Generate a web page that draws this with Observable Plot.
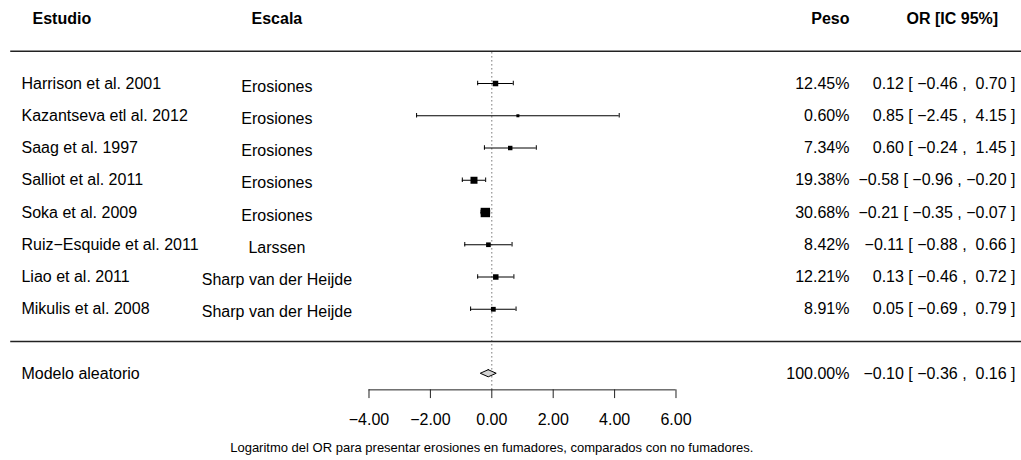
<!DOCTYPE html>
<html><head><meta charset="utf-8">
<script src="https://cdn.jsdelivr.net/npm/d3@7"></script>
<script src="https://cdn.jsdelivr.net/npm/@observablehq/plot@0.6"></script>
<style>body{margin:0;background:#fff;} svg text{white-space:pre;}</style>
</head><body><div id="chart"></div>
<script>
// ---- data ----
const studies = ["Harrison et al. 2001", "Kazantseva etl al. 2012", "Saag et al. 1997", "Salliot et al. 2011", "Soka et al. 2009", "Ruiz\u2212Esquide et al. 2011", "Liao et al. 2011", "Mikulis et al. 2008"];
const escalas = ["Erosiones", "Erosiones", "Erosiones", "Erosiones", "Erosiones", "Larssen", "Sharp van der Heijde", "Sharp van der Heijde"];
const estimates = [0.12, 0.85, 0.60, -0.58, -0.21, -0.11, 0.13, 0.05];
const lowers = [-0.46, -2.45, -0.24, -0.96, -0.35, -0.88, -0.46, -0.69];
const uppers = [0.70, 4.15, 1.45, -0.20, -0.07, 0.66, 0.72, 0.79];
const weights = [12.45, 0.60, 7.34, 19.38, 30.68, 8.42, 12.21, 8.91];
const modelLabel = "Modelo aleatorio";
const modelEst = -0.10, modelLower = -0.36, modelUpper = 0.16, modelWeight = 100.00;
const headers = {study: "Estudio", scale: "Escala", weight: "Peso", ci: "OR [IC 95%]"};
const tickValues = [-4, -2, 0, 2, 4, 6];
const caption = "Logaritmo del OR para presentar erosiones en fumadores, comparados con no fumadores.";

// ---- helpers ----
const k = studies.length;
const num = v => (v < 0 ? "\u2212" : "") + Math.abs(v).toFixed(2);
const pad = v => (v < 0 ? "" : " ") + num(v);
const ciText = (e, l, u) => `${num(e)} [ ${pad(l)} , ${pad(u)} ]`;
const rows = studies.map((s, i) => ({
  study: s, escala: escalas[i], est: estimates[i], lb: lowers[i], ub: uppers[i], w: weights[i], row: k - i
}));
const modelRow = -1;
const h = 0.11, cap = 0.07;
const diamond = [
  {y: modelRow + h, x1: modelEst, x2: modelEst},
  {y: modelRow, x1: modelLower, x2: modelUpper},
  {y: modelRow - h, x1: modelEst, x2: modelEst}
];
const xLeftText = -15.32, xScale = -7.0, xWeight = 11.65, xCI = 17.06, xLineStart = -15.67, xRight = 17.254;

const plot = Plot.plot({
  width: 1021, height: 460, margin: 0,
  x: {domain: [-16.003, 17.254], axis: null},
  y: {domain: [-3.690, 10.574], axis: null},
  r: {type: "linear", domain: [0.60, 30.68], range: [1.7, 5.3]},
  style: {fontFamily: "'Liberation Sans', Arial, Helvetica, sans-serif", fontSize: "16px", background: "white", color: "black"},
  marks: [
    // header
    Plot.text([headers.study], {x: -14.96, y: k + 2, text: d => d, textAnchor: "start", fontWeight: "bold", fontSize: 16}),
    Plot.text([headers.scale], {x: xScale, y: k + 2, text: d => d, textAnchor: "middle", fontWeight: "bold", fontSize: 16}),
    Plot.text([headers.weight], {x: xWeight, y: k + 2, text: d => d, textAnchor: "end", fontWeight: "bold", fontSize: 16}),
    Plot.text([headers.ci], {x: 15.0, y: k + 2, text: d => d, textAnchor: "middle", fontWeight: "bold", fontSize: 16}),
    // separator lines
    Plot.ruleY([k + 1, 0], {x1: xLineStart, x2: xRight, stroke: "#222", strokeWidth: 1.3}),
    // reference line
    Plot.ruleX([0], {y1: k + 0.95, y2: -1.5, stroke: "#333", strokeDasharray: "1,3"}),
    // CIs
    Plot.ruleY(rows, {y: "row", x1: "lb", x2: "ub", stroke: "black"}),
    Plot.ruleX(rows, {x: "lb", y1: d => d.row + cap, y2: d => d.row - cap, stroke: "black"}),
    Plot.ruleX(rows, {x: "ub", y1: d => d.row + cap, y2: d => d.row - cap, stroke: "black"}),
    Plot.dot(rows, {x: "est", y: "row", r: "w", symbol: "square", fill: "black", stroke: "none"}),
    // texts
    Plot.text(rows, {x: xLeftText, y: "row", text: "study", textAnchor: "start", fontSize: 16}),
    Plot.text(rows, {x: xScale, y: "row", text: "escala", textAnchor: "middle", dy: 3, fontSize: 16}),
    Plot.text(rows, {x: xWeight, y: "row", text: d => d.w.toFixed(2) + "%", textAnchor: "end", fontSize: 16}),
    Plot.text(rows, {x: xCI, y: "row", text: d => ciText(d.est, d.lb, d.ub), textAnchor: "end", fontSize: 16}),
    // model
    Plot.areaX(diamond, {y: "y", x1: "x1", x2: "x2", fill: "#d3d3d3", stroke: "black", curve: "linear"}),
    Plot.text([modelLabel], {x: xLeftText, y: modelRow, text: d => d, textAnchor: "start", fontSize: 16}),
    Plot.text([modelWeight], {x: xWeight, y: modelRow, text: d => d.toFixed(2) + "%", textAnchor: "end", fontSize: 16}),
    Plot.text([0], {x: xCI, y: modelRow, text: () => ciText(modelEst, modelLower, modelUpper), textAnchor: "end", fontSize: 16}),
    // axis
    Plot.ruleY([-1.5], {x1: tickValues[0], x2: tickValues[tickValues.length - 1], stroke: "#222"}),
    Plot.ruleX(tickValues, {x: d => d, y1: -1.5, y2: -1.77, stroke: "#222"}),
    Plot.text(tickValues, {x: d => d, y: -2.42, text: d => num(d), fontSize: 16}),
    // caption
    Plot.text([caption], {x: 0, y: -3.29, text: d => d, fontSize: 13})
  ]
});
document.getElementById("chart").appendChild(plot);
d3.select(plot).selectAll("text").attr("xml:space", "preserve");
</script></body></html>
